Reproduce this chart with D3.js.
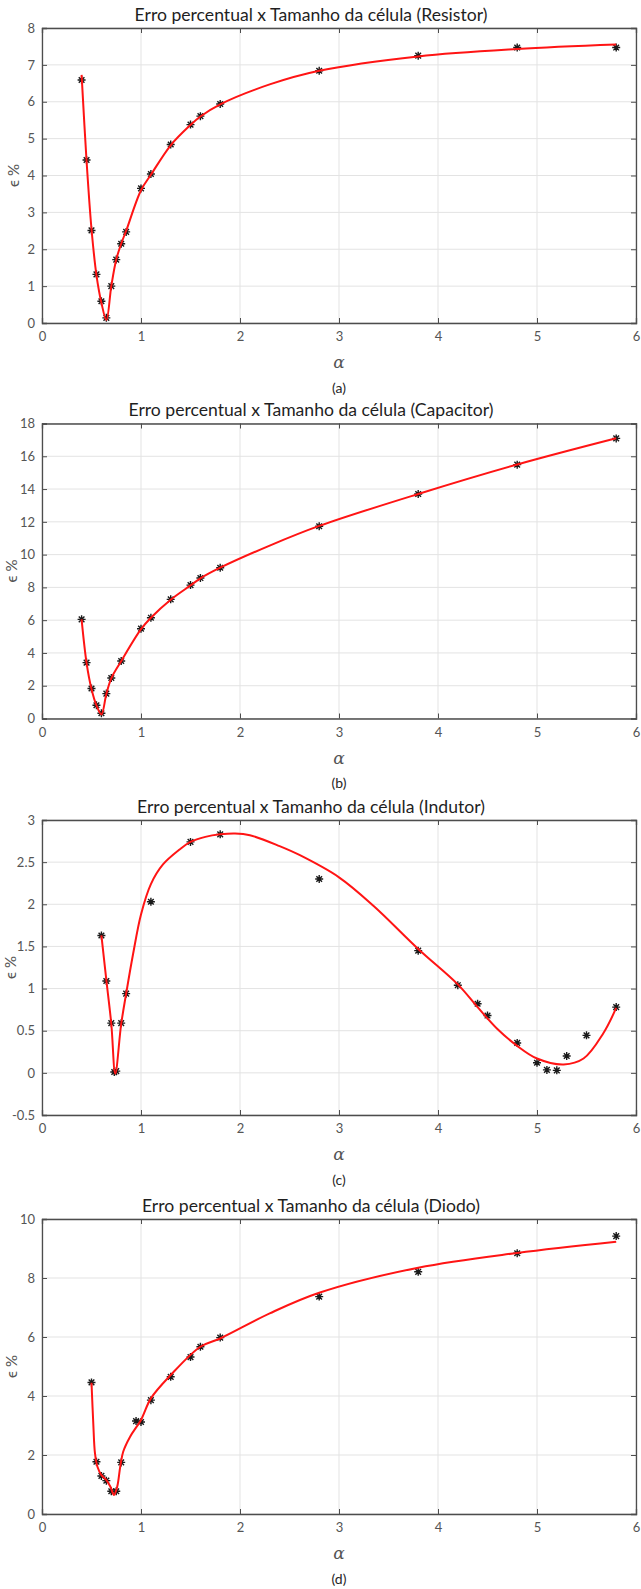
<!DOCTYPE html>
<html><head><meta charset="utf-8">
<script src="https://cdn.jsdelivr.net/npm/d3@7"></script>
<style>body{margin:0;background:#fff} svg{display:block}</style>
</head><body><svg id="c" width="641" height="1589"></svg>
<script>
const xTicks = [0,1,2,3,4,5,6];
const titles = [
  "Erro percentual x Tamanho da célula (Resistor)",
  "Erro percentual x Tamanho da célula (Capacitor)",
  "Erro percentual x Tamanho da célula (Indutor)",
  "Erro percentual x Tamanho da célula (Diodo)"
];
const captions = ["(a)","(b)","(c)","(d)"];
const xLabel = "α";
const yLabel = "ϵ %";

const resistorYTicks = [0,1,2,3,4,5,6,7,8];
const resistorX = [0.4,0.45,0.5,0.55,0.6,0.65,0.7,0.75,0.8,0.85,1.0,1.1,1.3,1.5,1.6,1.8,2.8,3.8,4.8,5.8];
const resistorY = [6.59,4.42,2.51,1.32,0.59,0.14,1.00,1.72,2.15,2.47,3.65,4.04,4.84,5.38,5.61,5.94,6.84,7.25,7.47,7.47];
const resistorFitX = [0.4,0.45,0.5,0.55,0.6,0.65,0.7,0.75,0.8,0.85,1.0,1.1,1.3,1.5,1.6,1.8,2.3,2.8,3.8,4.8,5.8];
const resistorFitY = [6.73,4.4,2.55,1.3,0.55,0.08,1.0,1.72,2.15,2.5,3.6,4.02,4.82,5.37,5.6,5.93,6.47,6.84,7.23,7.43,7.55];

const capacitorYTicks = [0,2,4,6,8,10,12,14,16,18];
const capacitorX = [0.4,0.45,0.5,0.55,0.6,0.65,0.7,0.8,1.0,1.1,1.3,1.5,1.6,1.8,2.8,3.8,4.8,5.8];
const capacitorY = [6.05,3.41,1.83,0.81,0.32,1.52,2.47,3.51,5.48,6.15,7.27,8.14,8.57,9.20,11.73,13.70,15.49,17.09];
const capacitorFitX = [0.4,0.45,0.5,0.55,0.6,0.65,0.7,0.8,1.0,1.1,1.3,1.5,1.6,1.8,2.3,2.8,3.8,4.8,5.8];
const capacitorFitY = [6.05,3.4,1.8,0.8,0.25,1.5,2.45,3.5,5.45,6.15,7.25,8.12,8.55,9.2,10.55,11.75,13.7,15.5,17.1];

const indutorYTicks = [-0.5,0,0.5,1,1.5,2,2.5,3];
const indutorX = [0.6,0.65,0.7,0.73,0.75,0.8,0.85,1.1,1.5,1.8,2.8,3.8,4.2,4.4,4.5,4.8,5.0,5.1,5.2,5.3,5.5,5.8];
const indutorY = [1.63,1.09,0.59,0.01,0.02,0.59,0.94,2.03,2.74,2.83,2.30,1.45,1.04,0.82,0.68,0.355,0.12,0.035,0.03,0.20,0.445,0.78];
const indutorFitX = [0.6,0.65,0.7,0.74,0.8,0.85,0.92,1.0,1.1,1.22,1.39,1.5,1.65,1.8,1.95,2.1,2.4,2.6,3.0,3.35,3.8,4.2,4.4,4.6,4.8,5.0,5.27,5.47,5.67,5.8];
const indutorFitY = [1.63,1.10,0.58,-0.01,0.58,0.94,1.41,1.88,2.24,2.47,2.65,2.74,2.80,2.83,2.84,2.82,2.69,2.585,2.32,1.98,1.47,1.05,0.78,0.52,0.32,0.17,0.10,0.17,0.47,0.77];

const diodoYTicks = [0,2,4,6,8,10];
const diodoX = [0.5,0.55,0.6,0.65,0.7,0.75,0.8,0.95,1.0,1.1,1.3,1.5,1.6,1.8,2.8,3.8,4.8,5.8];
const diodoY = [4.46,1.77,1.29,1.13,0.77,0.77,1.75,3.15,3.12,3.86,4.65,5.32,5.67,5.98,7.37,8.21,8.84,9.42];
const diodoFitX = [0.5,0.518,0.535,0.56,0.6,0.65,0.69,0.727,0.76,0.79,0.82,0.89,1.0,1.1,1.3,1.6,1.8,2.3,2.8,3.8,4.8,5.8];
const diodoFitY = [4.45,3.07,2.06,1.60,1.32,1.15,0.93,0.64,0.93,1.60,2.11,2.62,3.19,3.92,4.71,5.67,5.95,6.8,7.5,8.35,8.85,9.23];

const svg = d3.select('#c');
const L = 42, R = 636, PH = 295;
const panels = [
  {top:28,    t:titles[0], cap:captions[0], ticks:resistorYTicks,  px:resistorX,  py:resistorY,  fx:resistorFitX,  fy:resistorFitY,  ylx:13},
  {top:423.5, t:titles[1], cap:captions[1], ticks:capacitorYTicks, px:capacitorX, py:capacitorY, fx:capacitorFitX, fy:capacitorFitY, ylx:11},
  {top:820,   t:titles[2], cap:captions[2], ticks:indutorYTicks,   px:indutorX,   py:indutorY,   fx:indutorFitX,   fy:indutorFitY,   ylx:9.5},
  {top:1219,  t:titles[3], cap:captions[3], ticks:diodoYTicks,     px:diodoX,     py:diodoY,     fx:diodoFitX,     fy:diodoFitY,     ylx:11}
];
const FONT = "Lato, 'Open Sans', sans-serif";
const axisCol = "#4d4d4d";
const star = r => { const a = r*0.7071; return `M${-r},0L${r},0M0,${-r}L0,${r}M${-a},${-a}L${a},${a}M${-a},${a}L${a},${-a}`; };

panels.forEach(p => {
  const bottom = p.top + PH;
  const x = d3.scaleLinear().domain([0,6]).range([L,R]);
  const y = d3.scaleLinear().domain(d3.extent(p.ticks)).range([bottom, p.top]);
  const g = svg.append('g');

  // grid
  g.append('g').selectAll('line').data(xTicks).join('line')
    .attr('x1', d => x(d)).attr('x2', d => x(d)).attr('y1', p.top).attr('y2', bottom)
    .attr('stroke', '#e3e3e3').attr('stroke-width', 1);
  g.append('g').selectAll('line').data(p.ticks).join('line')
    .attr('y1', d => y(d)).attr('y2', d => y(d)).attr('x1', L).attr('x2', R)
    .attr('stroke', '#e3e3e3').attr('stroke-width', 1);

  // markers
  const mk = p.px.map((v,i) => [v, p.py[i]]);
  g.append('g').selectAll('path').data(mk).join('path')
    .attr('transform', d => `translate(${x(d[0])},${y(d[1])})`)
    .attr('d', star(4)).attr('stroke','#1a1a1a').attr('stroke-width',1.4).attr('fill','none');

  // fitted curve
  const pts = p.fx.map((v,i) => [v, p.fy[i]]);
  g.append('path').datum(pts)
    .attr('d', d3.line().x(d => x(d[0])).y(d => y(d[1])).curve(d3.curveCatmullRom.alpha(0.5)))
    .attr('fill','none').attr('stroke','#ff1414').attr('stroke-width',2);

  // axes (inside ticks on all sides)
  const fmt = d => String(d);
  const ax = g.append('g').attr('transform', `translate(0,${bottom})`)
    .call(d3.axisBottom(x).tickValues(xTicks).tickSize(-5).tickPadding(9).tickFormat(fmt));
  const at = g.append('g').attr('transform', `translate(0,${p.top})`)
    .call(d3.axisTop(x).tickValues(xTicks).tickSize(-5).tickFormat(''));
  const ay = g.append('g').attr('transform', `translate(${L},0)`)
    .call(d3.axisLeft(y).tickValues(p.ticks).tickSize(-5).tickPadding(7).tickFormat(fmt));
  const ar = g.append('g').attr('transform', `translate(${R},0)`)
    .call(d3.axisRight(y).tickValues(p.ticks).tickSize(-5).tickFormat(''));
  [ax,at,ay,ar].forEach(a => {
    a.select('.domain').attr('stroke', axisCol).attr('stroke-width', 1.3);
    a.selectAll('.tick line').attr('stroke', axisCol).attr('stroke-width', 1);
    a.selectAll('.tick text').attr('fill', '#555').style('font-family', FONT).style('font-size','13px');
  });

  // texts
  g.append('text').attr('x', 311).attr('y', p.top - 14).attr('text-anchor','middle')
    .attr('dominant-baseline','central').style('font-family', FONT).style('font-size','17.6px')
    .attr('fill','#1f1f1f').text(p.t);
  g.append('text').attr('x', 339).attr('y', bottom + 39).attr('text-anchor','middle')
    .attr('dominant-baseline','central').style('font-family', "'DejaVu Serif', serif").style('font-style','italic')
    .style('font-size','17px').attr('fill','#555').text(xLabel);
  g.append('text').attr('x', 339).attr('y', bottom + 64).attr('text-anchor','middle')
    .attr('dominant-baseline','central').style('font-family', FONT).style('font-size','14px')
    .attr('fill','#262626').text(p.cap);
  g.append('text').attr('transform', `translate(${p.ylx},${(p.top+bottom)/2}) rotate(-90)`)
    .attr('text-anchor','middle').attr('dominant-baseline','central')
    .style('font-family', FONT).style('font-size','15px').attr('fill','#555').text(yLabel);
});
</script></body></html>
